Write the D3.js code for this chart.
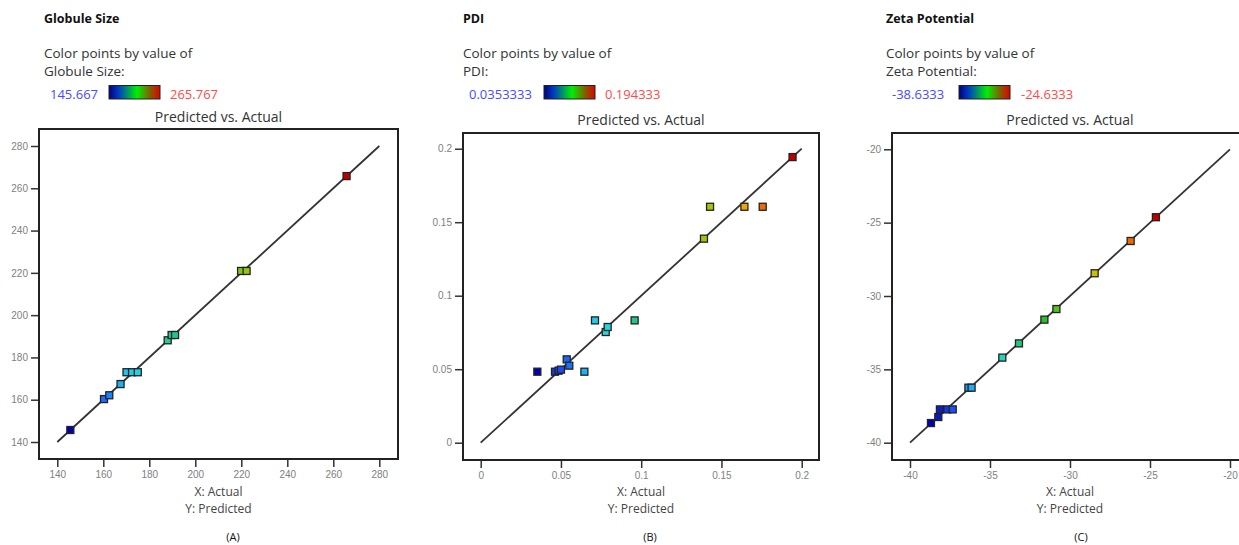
<!DOCTYPE html>
<html lang="en">
<head>
    <meta charset="UTF-8">
    <title>Predicted vs. Actual</title>
    <script src="https://d3js.org/d3.v7.min.js"></script>
    <style>
        body { margin: 0; background: #fff; }
        svg { font-family: "Open Sans", "Noto Sans", sans-serif; }
        .title { font-size: 12.5px; font-weight: bold; fill: #111; }
        .caption { font-size: 13.5px; fill: #333; }
        .legend-num { font-size: 13px; }
        .plot-title { font-size: 14px; fill: #333; text-anchor: middle; }
        .axis-name { font-size: 12px; fill: #444; text-anchor: middle; }
        .tag { font-size: 11px; fill: #111; text-anchor: middle; }
        .tick text { font-size: 10px; fill: #808080; }
        .tick line { stroke: #333; stroke-width: 1.5px; }
        .frame { fill: none; stroke: #222; stroke-width: 2px; }
        .fit { stroke: #333; stroke-width: 1.8px; }
        .pt { stroke: #222; stroke-width: 1.3px; }
    </style>
</head>
<body>
    <svg id="chart" width="1239" height="545"></svg>

    <script>
        // Globule Size (A)
        var actualA    = [145.67, 160.3, 162.6, 167.5, 170.1, 172.5, 175.0, 188.0, 189.7, 191.2, 219.9, 222.3, 265.77];
        var predictedA = [145.67, 160.3, 162.1, 167.4, 173.0, 173.0, 173.0, 188.1, 190.6, 190.6, 220.9, 220.9, 265.77];
        var ticksA = [140, 160, 180, 200, 220, 240, 260, 280];
        var rangeA = [145.667, 265.767];

        // PDI (B)
        var actualB    = [0.0353, 0.0463, 0.0485, 0.0500, 0.0536, 0.0552, 0.0646, 0.0712, 0.0779, 0.0791, 0.0959, 0.1391, 0.1429, 0.1643, 0.1757, 0.1943];
        var predictedB = [0.0483, 0.0483, 0.0490, 0.0497, 0.0567, 0.0524, 0.0483, 0.0832, 0.0753, 0.0787, 0.0832, 0.1388, 0.1605, 0.1605, 0.1605, 0.1943];
        var ticksB = [0, 0.05, 0.1, 0.15, 0.2];
        var rangeB = [0.0353333, 0.194333];

        // Zeta Potential (C)
        var actualC    = [-38.69, -38.23, -38.13, -37.67, -37.33, -36.35, -36.15, -34.23, -33.19, -31.6, -30.85, -28.46, -26.21, -24.63];
        var predictedC = [-38.66, -38.25, -37.73, -37.73, -37.73, -36.25, -36.25, -34.2, -33.23, -31.61, -30.89, -28.45, -26.25, -24.63];
        var ticksC = [-40, -35, -30, -25, -20];
        var rangeC = [-38.6333, -24.6333];

        var panelNames = ["Globule Size", "PDI", "Zeta Potential"];
        var legendLabels = [["145.667", "265.767"], ["0.0353333", "0.194333"], ["-38.6333", "-24.6333"]];
        var tags = ["(A)", "(B)", "(C)"];

        // point colour ramp (fraction of the colour range)
        var rampStops  = [0, 0.1, 0.2, 0.27, 0.38, 0.5, 0.62, 0.7, 0.8, 0.88, 1];
        var rampColors = ["#0000b0", "#1a55ff", "#1cc4f4", "#22d8e0", "#22c883", "#26c026",
                          "#82c812", "#bcc400", "#f2b000", "#f07000", "#c00000"];
        var ramp = d3.scaleLinear().domain(rampStops).range(rampColors);

        var svg = d3.select("#chart");

        var defs = svg.append("defs");
        var grad = defs.append("linearGradient").attr("id", "legendGrad");
        [["0%", "#000080"], ["20%", "#0040c0"], ["55%", "#00f000"], ["80%", "#806000"], ["100%", "#e00000"]]
            .forEach(function(s) { grad.append("stop").attr("offset", s[0]).attr("stop-color", s[1]); });

        var panels = [
            { actual: actualA, predicted: predictedA, ticks: ticksA, range: rangeA,
              left: 39, top: 129, right: 398, bottom: 459,
              xr: [57.3, 379.3], yr: [442, 146],
              textX: 44, legX: 50, gradX: 109, maxX: 170, fmt: String },
            { actual: actualB, predicted: predictedB, ticks: ticksB, range: rangeB,
              left: 463, top: 133, right: 819, bottom: 460,
              xr: [480.7, 801.7], yr: [442.7, 148.7],
              textX: 463, legX: 469, gradX: 544, maxX: 605, fmt: function(d) { return String(+d.toFixed(2)); } },
            { actual: actualC, predicted: predictedC, ticks: ticksC, range: rangeC,
              left: 892, top: 133, right: 1248, bottom: 460,
              xr: [910, 1230], yr: [442.7, 149.3],
              textX: 886, legX: 892, gradX: 959, maxX: 1021, fmt: String }
        ];

        panels.forEach(function(p, i) {
            var g = svg.append("g");
            var dom = d3.extent(p.ticks);
            var x = d3.scaleLinear().domain(dom).range(p.xr);
            var y = d3.scaleLinear().domain(dom).range(p.yr);
            var cx = (p.left + p.right) / 2;

            // header
            g.append("text").attr("class", "title").attr("x", p.textX).attr("y", 23).text(panelNames[i]);
            g.append("text").attr("class", "caption").attr("x", p.textX).attr("y", 58).text("Color points by value of");
            g.append("text").attr("class", "caption").attr("x", p.textX).attr("y", 76).text(panelNames[i] + ":");
            g.append("text").attr("class", "legend-num").attr("x", p.legX).attr("y", 98.5)
                .style("fill", "#4a4aff").text(legendLabels[i][0]);
            g.append("rect").attr("x", p.gradX).attr("y", 85.5).attr("width", 51).attr("height", 13.5)
                .style("fill", "url(#legendGrad)").style("stroke", "#222").style("stroke-width", 1);
            g.append("text").attr("class", "legend-num").attr("x", p.maxX).attr("y", 98.5)
                .style("fill", "#ff4a4a").text(legendLabels[i][1]);

            var titleY = i === 0 ? 122 : 125;
            g.append("text").attr("class", "plot-title").attr("x", cx).attr("y", titleY).text("Predicted vs. Actual");

            // axes
            g.append("g")
                .attr("class", "x-axis")
                .attr("transform", "translate(0," + p.bottom + ")")
                .call(d3.axisBottom(x).tickValues(p.ticks).tickSize(8).tickPadding(4).tickFormat(p.fmt))
                .call(function(a) { a.select(".domain").remove(); });

            g.append("g")
                .attr("class", "y-axis")
                .attr("transform", "translate(" + p.left + ",0)")
                .call(d3.axisLeft(y).tickValues(p.ticks).tickSize(8).tickPadding(3).tickFormat(p.fmt))
                .call(function(a) { a.select(".domain").remove(); });

            // frame
            g.append("rect").attr("class", "frame")
                .attr("x", p.left).attr("y", p.top)
                .attr("width", p.right - p.left).attr("height", p.bottom - p.top);

            // y = x line
            g.append("line").attr("class", "fit")
                .attr("x1", x(dom[0])).attr("y1", y(dom[0]))
                .attr("x2", x(dom[1])).attr("y2", y(dom[1]));

            // points
            var c = d3.scaleLinear().domain(p.range).range([0, 1]).clamp(true);
            var pts = p.actual.map(function(a, k) { return { a: a, p: p.predicted[k] }; });
            g.selectAll(".pt").data(pts).enter().append("rect")
                .attr("class", "pt")
                .attr("x", function(d) { return x(d.a) - 3.5; })
                .attr("y", function(d) { return y(d.p) - 3.5; })
                .attr("width", 7).attr("height", 7)
                .style("fill", function(d) { return ramp(c(d.a)); });

            // axis names
            g.append("text").attr("class", "axis-name").attr("x", cx).attr("y", 495.5).text("X: Actual");
            g.append("text").attr("class", "axis-name").attr("x", cx).attr("y", 513).text("Y: Predicted");
        });

        [233, 650, 1081].forEach(function(tx, i) {
            svg.append("text").attr("class", "tag").attr("x", tx).attr("y", 541).text(tags[i]);
        });
    </script>
</body>
</html>
